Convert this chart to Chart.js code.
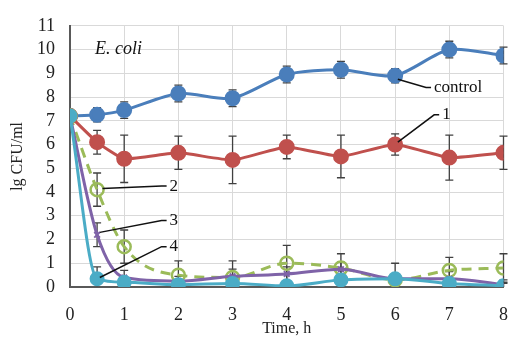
<!DOCTYPE html>
<html>
<head>
<meta charset="utf-8">
<script src="https://cdn.jsdelivr.net/npm/chart.js@4"></script>
<style>
  html, body { margin: 0; padding: 0; background: #fff; }
  #wrap { width: 513px; height: 338px; }
</style>
</head>
<body>
<div id="wrap"><canvas id="myChart" width="513" height="338"></canvas></div>
<script>
// time points, h
var hours = [0, 0.5, 1, 2, 3, 4, 5, 6, 7, 8];

// lg CFU/ml
var control = [7.2, 7.25, 7.45, 8.15, 7.95, 8.95, 9.15, 8.9, 10.0, 9.75];
var controlErr = [0, 0.3, 0.35, 0.35, 0.35, 0.35, 0.35, 0.3, 0.35, 0.35];
var s1 = [7.2, 6.1, 5.4, 5.65, 5.35, 5.9, 5.5, 6.0, 5.45, 5.65];
var s1Err = [0, 0.5, 1.0, 0.7, 1.0, 0.5, 0.9, 0.45, 0.95, 0.7];
var s2 = [7.2, 4.1, 1.7, 0.5, 0.4, 1.0, 0.8, 0.3, 0.7, 0.8];
var s2Err = [0, 0.7, 0.7, 0.6, 0.7, 0.75, 0.6, 0.7, 0.55, 0.6];
var s3 = [7.2, 2.2, 0.4, 0.25, 0.45, 0.55, 0.75, 0.35, 0.35, 0.1];
var s3Err = [0, 0.5, 0.3, 0.2, 0.3, 0.3, 0.3, 0.2, 0.3, 0.2];
var s4 = [7.2, 0.35, 0.2, 0.1, 0.15, 0.05, 0.3, 0.35, 0.15, 0.05];
var s4Err = [0, 0.5, 0.2, 0.1, 0.1, 0.1, 0.2, 0.2, 0.1, 0.1];

// callout labels: [text, from x, from y, to x, to y]
var callouts = [
  ['control', 6.05, 8.75, 6.7, 8.4],
  ['1', 6.05, 6.1, 6.85, 7.25],
  ['2', 0.6, 4.15, 1.82, 4.25],
  ['3', 0.55, 2.3, 1.82, 2.8],
  ['4', 0.55, 0.4, 1.82, 1.7],
];

var serif = '"Liberation Serif", "Times New Roman", serif';

function pts(ys) {
  return ys.map(function (y, i) { return { x: hours[i], y: y }; });
}

var errorBars = {
  id: 'errorBars',
  beforeDatasetsDraw: function (chart) {
    var ctx = chart.ctx;
    var xs = chart.scales.x, ys = chart.scales.y;
    ctx.save();
    ctx.strokeStyle = '#404040';
    ctx.lineWidth = 1.3;
    chart.data.datasets.forEach(function (ds) {
      ds.data.forEach(function (p, i) {
        var e = ds.err[i];
        if (!e) return;
        var px = xs.getPixelForValue(p.x);
        var top = ys.getPixelForValue(p.y + e);
        var bot = ys.getPixelForValue(Math.max(0, p.y - e));
        ctx.beginPath();
        ctx.moveTo(px, top); ctx.lineTo(px, bot);
        ctx.moveTo(px - 4, top); ctx.lineTo(px + 4, top);
        if (p.y - e > 0) { ctx.moveTo(px - 4, bot); ctx.lineTo(px + 4, bot); }
        ctx.stroke();
      });
    });
    ctx.restore();
  },
  afterDatasetsDraw: function (chart) {
    var ctx = chart.ctx;
    var xs = chart.scales.x, ys = chart.scales.y;
    ctx.save();
    ctx.strokeStyle = '#111';
    ctx.lineWidth = 1.5;
    ctx.fillStyle = '#111';
    ctx.font = '17px ' + serif;
    ctx.textBaseline = 'middle';
    callouts.forEach(function (c) {
      var x1 = xs.getPixelForValue(c[1]), y1 = ys.getPixelForValue(c[2]);
      var x2 = xs.getPixelForValue(c[3]), y2 = ys.getPixelForValue(c[4]);
      ctx.beginPath();
      ctx.moveTo(x1, y1); ctx.lineTo(x2 - 7, y2); ctx.lineTo(x2 - 2, y2);
      ctx.stroke();
      ctx.fillText(c[0], x2 + 1, y2);
    });
    ctx.font = 'italic 18px ' + serif;
    ctx.fillText('E. coli', xs.getPixelForValue(0.46), ys.getPixelForValue(10));
    ctx.restore();
  },
};

var datasets = [
  { label: '4', data: pts(s4), err: s4Err, borderColor: '#4bacc6', backgroundColor: '#4bacc6',
    pointRadius: 6, borderWidth: 3, cubicInterpolationMode: 'monotone' },
  { label: '3', data: pts(s3), err: s3Err, borderColor: '#7f63a8', backgroundColor: '#7f63a8',
    pointStyle: 'crossRot', pointRadius: 4, pointBorderWidth: 2, borderWidth: 3, cubicInterpolationMode: 'monotone' },
  { label: '2', data: pts(s2), err: s2Err, borderColor: '#9bbb59', backgroundColor: 'rgba(0,0,0,0)',
    borderDash: [10, 7], pointRadius: 6.5, pointBorderWidth: 2.5, borderWidth: 3, cubicInterpolationMode: 'monotone' },
  { label: '1', data: pts(s1), err: s1Err, borderColor: '#c0504d', backgroundColor: '#c0504d',
    pointRadius: 6.5, borderWidth: 3, tension: 0.15 },
  { label: 'control', data: pts(control), err: controlErr, borderColor: '#4a7ebb', backgroundColor: '#4a7ebb',
    pointRadius: 6.5, borderWidth: 3, tension: 0.25 },
];

var ctx = document.getElementById('myChart').getContext('2d');
var myChart = new Chart(ctx, {
  type: 'line',
  data: { datasets: datasets },
  options: {
    responsive: false,
    animation: false,
    layout: { padding: { top: 23, right: 5, bottom: 0, left: 0 } },
    plugins: { legend: { display: false }, tooltip: { enabled: false } },
    scales: {
      x: {
        type: 'linear', min: 0, max: 8,
        afterFit: function (s) { s.height = 51; s.paddingLeft = 0; s.paddingRight = 0; },
        grid: { color: '#d9d9d9', drawTicks: false },
        border: { color: '#595959', width: 2 },
        ticks: { stepSize: 1, autoSkip: false, padding: 17, color: '#222', font: { family: serif, size: 18 } },
        title: { display: true, text: 'Time, h', align: 'center', color: '#222',
          font: { family: serif, size: 16 }, padding: { top: 0, bottom: 0 } },
      },
      y: {
        min: 0, max: 11,
        afterFit: function (s) { s.width = 70; },
        grid: { color: '#d9d9d9', drawTicks: false },
        border: { color: '#595959', width: 2 },
        ticks: { stepSize: 1, autoSkip: false, padding: 15, color: '#222', font: { family: serif, size: 18 } },
        title: { display: true, text: 'lg CFU/ml', color: '#222',
          font: { family: serif, size: 16 }, padding: { top: 8, bottom: 0 } },
      },
    },
  },
  plugins: [errorBars],
});
</script>
</body>
</html>
